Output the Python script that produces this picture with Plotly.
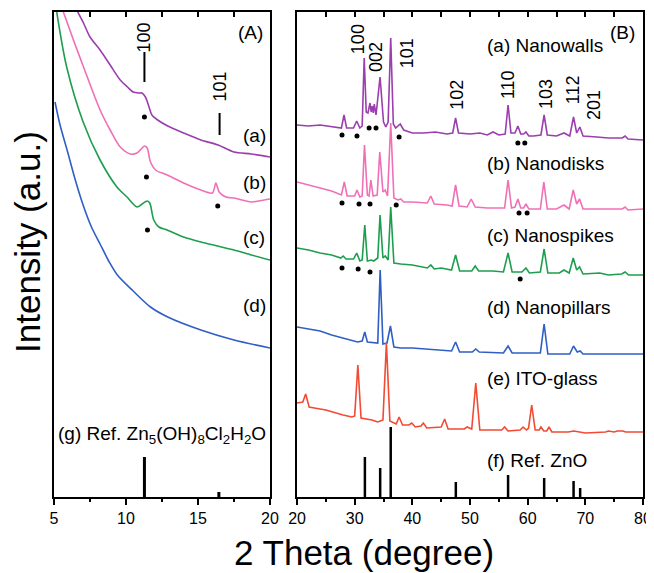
import plotly.graph_objects as go

# ---------------- data ----------------
# Panel A (2θ 5–20), intensities in arbitrary units (stacked with offsets)
A_a_x = [6.65, 7.05, 7.5, 8.2, 8.9, 9.6, 10.1, 10.5, 10.9, 11.1, 11.35, 11.6, 11.8, 12.2, 12.9, 14.0, 15.2, 16.4, 17.5, 18.7, 20.0]
A_a_y = [485, 474, 460, 447, 432, 417, 410, 405, 404, 404, 400, 390, 382, 377, 371, 364, 357, 352, 345, 343, 340]

A_b_x = [5.65, 6.35, 7.05, 8.2, 8.9, 9.6, 10.3, 10.77, 11.12, 11.28, 11.47, 11.7, 12.05, 12.86, 14.0, 15.2, 16.0, 16.24, 16.47, 16.93, 17.5, 18.7, 19.6, 20.0]
A_b_y = [485, 457, 430, 387, 367, 350, 343, 344, 349, 351, 349, 335, 327, 322, 314, 307, 304, 314, 305, 300, 299, 295, 297, 298]

A_c_x = [5.19, 5.88, 7.05, 8.2, 9.37, 10.07, 10.77, 11.12, 11.47, 11.65, 11.93, 12.28, 12.86, 14.0, 15.2, 16.35, 17.5, 18.7, 20.0]
A_c_y = [485, 430, 374, 337, 310, 300, 290, 293, 296, 294, 277, 270, 267, 260, 255, 251, 247, 242, 237]

A_d_x = [5.07, 5.42, 5.91, 6.5, 7.02, 7.6, 8.2, 8.8, 9.4, 10.5, 11.7, 12.9, 15.2, 17.5, 20.0]
A_d_y = [395, 372, 347, 316, 292, 270, 253, 236, 222, 206, 190, 180, 167, 157, 149]

A_ref_pos = [11.28, 16.45]
A_ref_h = [40, 5]

A_dots_x = [11.28, 11.42, 16.37, 11.49]
A_dots_y = [380, 320, 291, 267]

# Panel B (2θ 20–80)
B_a_x = [20, 22, 24, 26, 27.7, 28.15, 28.6, 29.8, 30.35, 30.9, 31.3, 31.65, 32.0, 32.3, 32.66, 32.86, 33.06, 33.23, 33.4, 33.7, 34.4, 35.0, 35.4, 35.8, 36.25, 36.7, 37.1, 37.9, 38.5, 40, 42, 44, 46, 47.0, 47.5, 48.0, 50, 51.7, 53, 54.0, 55, 56.1, 56.6, 57.1, 57.8, 58.3, 58.8, 59.3, 59.7, 60.2, 61, 62.3, 62.85, 63.4, 65, 66.3, 67.3, 67.95, 68.5, 69.05, 69.6, 72, 74, 76.4, 76.9, 77.4, 80]
B_a_py = [125, 126, 125, 127, 128, 115, 128, 128, 121, 128, 126, 58, 112, 113, 103, 112, 106, 113, 104, 115, 77, 122, 127, 122, 38, 124, 128, 124, 130, 133, 133, 132, 134, 133, 118, 133, 134, 133, 135, 132, 135, 134, 105, 133, 133, 126, 134, 134, 132, 136, 136, 135, 115, 135, 136, 133, 136, 117, 133, 127, 136, 137, 138, 138, 136, 139, 140]

B_b_x = [20, 22, 24, 26, 27.7, 28.2, 28.7, 30.0, 30.4, 30.9, 31.3, 31.7, 32.2, 32.5, 32.8, 33.2, 33.9, 34.35, 34.9, 35.3, 35.7, 36.25, 36.8, 37.5, 38.0, 38.5, 40, 42.6, 43.2, 43.8, 46, 46.9, 47.5, 48.1, 49.5, 50.2, 50.9, 53, 56.0, 56.6, 57.2, 57.8, 58.3, 58.8, 59.3, 59.7, 60.2, 62.2, 62.8, 63.4, 65, 66.3, 67.2, 67.9, 68.5, 69.0, 69.6, 72, 74, 76.4, 76.9, 77.4, 80]
B_b_py = [182, 185, 188, 191, 195, 182, 196, 196, 190, 197, 196, 145, 195, 196, 180, 196, 195, 152, 192, 190, 196, 123, 198, 200, 199, 202, 202, 203, 196, 204, 205, 206, 185, 206, 207, 199, 207, 208, 208, 180, 208, 207, 199, 208, 208, 204, 209, 209, 182, 209, 209, 205, 209, 190, 204, 199, 209, 209, 209, 209, 207, 210, 209]

B_c_x = [20, 22, 24, 26, 27.6, 28.0, 28.5, 29.8, 30.35, 30.9, 31.3, 31.75, 32.2, 32.9, 33.3, 34.0, 34.4, 34.9, 35.3, 35.8, 36.25, 36.8, 38, 40, 42.6, 43.2, 43.8, 45, 46.8, 47.5, 48.2, 50.3, 50.9, 51.5, 54, 55.8, 56.6, 57.3, 59, 59.7, 60.3, 62.2, 62.85, 63.5, 65.5, 66.3, 67.2, 67.9, 68.5, 69.0, 69.6, 72.5, 74, 76.3, 76.9, 77.5, 80]
B_c_py = [248, 250, 253, 255, 258, 256, 259, 259, 253, 261, 260, 225, 261, 260, 261, 258, 215, 258, 256, 260, 207, 263, 264, 265, 268, 265, 269, 268, 270, 255, 271, 271, 266, 271, 271, 272, 253, 272, 272, 268, 273, 272, 249, 273, 273, 270, 273, 258, 270, 267, 274, 273, 275, 274, 272, 275, 275]

B_d_x = [20, 22, 24, 26, 28, 29.5, 30.5, 31.3, 31.75, 32.2, 33.5, 34.0, 34.42, 34.9, 35.6, 36.2, 36.8, 38, 40, 44, 46.8, 47.5, 48.2, 50.4, 51.0, 51.6, 55.8, 56.6, 57.3, 62.2, 62.85, 63.5, 67.3, 67.95, 68.6, 69.1, 69.6, 80]
B_d_py = [327, 329, 331, 335, 338, 340, 342, 341, 332, 342, 343, 343, 270, 344, 343, 326, 347, 348, 348, 350, 351, 342, 352, 352, 349, 352, 353, 346, 353, 353, 324, 354, 354, 346, 352, 351, 354, 354]

B_e_x = [20, 21.0, 21.5, 22.1, 23, 25, 28, 29.5, 30.0, 30.55, 31.1, 32, 33, 34, 34.9, 35.5, 36.1, 37.2, 37.7, 38.3, 39.4, 39.9, 40.5, 41.5, 41.9, 42.5, 45.0, 45.6, 46.2, 49.0, 49.5, 50.3, 51.0, 51.7, 55.5, 56.0, 56.6, 58.7, 59.2, 59.8, 60.15, 60.7, 61.3, 62.0, 62.3, 62.8, 63.3, 63.7, 64.2, 67, 68.0, 70, 73.5, 74, 75, 75.5, 76.5, 77, 80]
B_e_py = [403, 402, 394, 407, 408, 410, 415, 417, 416, 365, 418, 419, 420, 422, 420, 343, 421, 424, 417, 425, 425, 423, 427, 426, 423, 428, 427, 419, 429, 429, 427, 429, 383, 430, 430, 427, 431, 430, 427, 430, 428, 405, 430, 430, 427, 431, 431, 427, 432, 432, 431, 433, 432, 431, 432, 431, 431, 432, 432]

B_ref_pos = [31.77, 34.42, 36.25, 47.54, 56.6, 62.86, 67.96, 69.1]
B_ref_h = [40, 29, 70, 15, 22, 19, 16, 9]

B_dots_x = [27.8, 30.4, 32.5, 33.7, 37.7, 58.3, 59.5,
            27.8, 30.75, 32.66, 37.2, 58.5, 59.9,
            27.8, 30.6, 32.66, 58.7]
B_dots_y = [362, 361, 369, 369, 360, 354, 354,
            294, 293, 293, 292, 284, 284,
            229, 228, 225, 218]

# Miller index labels
A_hkl = ["100", "101"]
B_hkl = ["100", "002", "101", "102", "110", "103", "112", "201"]
sample_names_A = ["(a)", "(b)", "(c)", "(d)"]
sample_names_B = ["(a) Nanowalls", "(b) Nanodisks", "(c) Nanospikes", "(d) Nanopillars",
                  "(e) ITO-glass", "(f) Ref. ZnO"]
ref_name_A = "(g) Ref. Zn<sub>5</sub>(OH)<sub>8</sub>Cl<sub>2</sub>H<sub>2</sub>O"

# ---------------- styling / layout ----------------
TOP = 497  # pixel baseline reference used for reading panel B values
def lvl(py):
    return [TOP - v for v in py]

PURPLE = "#9a3fad"
PINK = "#f070b6"
GREEN = "#1d9e4e"
BLUE = "#2f5fc4"
RED = "#f24a33"
FONT = "Liberation Sans, Arial, sans-serif"

fig = go.Figure()

def line(x, y, color, xa="x", ya="y", w=1.6, shape="linear"):
    fig.add_trace(go.Scatter(x=x, y=y, mode="lines", xaxis=xa, yaxis=ya,
                             line=dict(color=color, width=w, shape=shape, smoothing=0.8),
                             showlegend=False, hoverinfo="skip"))

# Panel A
line(A_a_x, A_a_y, PURPLE, shape="spline")
line(A_b_x, A_b_y, PINK, shape="spline")
line(A_c_x, A_c_y, GREEN, shape="spline")
line(A_d_x, A_d_y, BLUE, shape="spline")
sx, sy = [], []
for p, h in zip(A_ref_pos, A_ref_h):
    sx += [p, p, None]
    sy += [0, h, None]
line(sx, sy, "black", w=3)
fig.add_trace(go.Scatter(x=A_dots_x, y=A_dots_y, mode="markers", xaxis="x", yaxis="y",
                         marker=dict(color="black", size=5), showlegend=False, hoverinfo="skip"))

# Panel B
line(B_a_x, lvl(B_a_py), PURPLE, "x2", "y2")
line(B_b_x, lvl(B_b_py), PINK, "x2", "y2")
line(B_c_x, lvl(B_c_py), GREEN, "x2", "y2")
line(B_d_x, lvl(B_d_py), BLUE, "x2", "y2")
line(B_e_x, lvl(B_e_py), RED, "x2", "y2")
sx, sy = [], []
for p, h in zip(B_ref_pos, B_ref_h):
    sx += [p, p, None]
    sy += [0, h, None]
line(sx, sy, "black", "x2", "y2", w=2.5)
fig.add_trace(go.Scatter(x=B_dots_x, y=B_dots_y, mode="markers", xaxis="x2", yaxis="y2",
                         marker=dict(color="black", size=5), showlegend=False, hoverinfo="skip"))

# short index markers in panel A
A_hkl_x = [11.28, 16.5]
A_hkl_bar = [(415, 445), (362, 384)]
sx, sy = [], []
for px_, (y0, y1) in zip(A_hkl_x, A_hkl_bar):
    sx += [px_, px_, None]
    sy += [y0, y1, None]
line(sx, sy, "black", w=2)

# dummy traces for top tick axes
fig.add_trace(go.Scatter(x=[None], y=[None], xaxis="x3", yaxis="y", showlegend=False))
fig.add_trace(go.Scatter(x=[None], y=[None], xaxis="x4", yaxis="y2", showlegend=False))

ann = []
tf = dict(family=FONT, size=19, color="black")
hf = dict(family=FONT, size=18, color="black")
# panel A hkl text
for t, x, y in zip(A_hkl, A_hkl_x, [460, 410]):
    ann.append(dict(text=t, x=x, y=y, xref="x", yref="y", showarrow=False,
                    textangle=-90, font=hf, xanchor="center", yanchor="middle"))
# panel A sample labels
for t, y in zip(sample_names_A, [362, 315, 260, 192]):
    ann.append(dict(text=t, x=18.9, y=y, xref="x", yref="y", showarrow=False, font=tf,
                    xanchor="center", yanchor="middle"))
ann.append(dict(text="(A)", x=18.65, y=465, xref="x", yref="y", showarrow=False, font=tf,
                xanchor="center", yanchor="middle"))
ann.append(dict(text=ref_name_A, x=5.15, y=62, xref="x", yref="y", showarrow=False,
                xanchor="left", yanchor="middle", font=tf))
# panel B hkl text
B_hkl_x = [30.6, 33.7, 39.1, 47.7, 56.6, 63.2, 67.9, 71.5]
B_hkl_y = [458, 440, 444, 402, 412, 403, 407, 392]
for t, x, y in zip(B_hkl, B_hkl_x, B_hkl_y):
    ann.append(dict(text=t, x=x, y=y, xref="x2", yref="y2", showarrow=False,
                    textangle=-90, font=hf, xanchor="center", yanchor="middle"))
for t, y in zip(sample_names_B, [452, 334, 262, 190, 119, 37]):
    ann.append(dict(text=t, x=52.6, y=y, xref="x2", yref="y2", showarrow=False,
                    xanchor="left", yanchor="middle", font=tf))
ann.append(dict(text="(B)", x=76.5, y=465, xref="x2", yref="y2", showarrow=False, font=tf,
                xanchor="center", yanchor="middle"))
# axis titles
ann.append(dict(text="Intensity (a.u.)", x=-0.044, y=0.526, xref="paper", yref="paper",
                showarrow=False, textangle=-90, xanchor="center", yanchor="middle",
                font=dict(family=FONT, size=35, color="black")))
ann.append(dict(text="2 Theta (degree)", x=0.526, y=-0.115, xref="paper", yref="paper",
                showarrow=False, xanchor="center", yanchor="middle",
                font=dict(family=FONT, size=35, color="black")))

LW = 1.8
xa_common = dict(showline=True, mirror=True, linecolor="black", linewidth=LW,
                 ticks="outside", ticklen=6, tickwidth=1.5, tickcolor="black",
                 showgrid=False, zeroline=False, automargin=False,
                 tickfont=dict(family=FONT, size=16, color="black"))
ya_common = dict(showline=True, mirror=True, linecolor="black", linewidth=LW,
                 ticks="", showticklabels=False, showgrid=False, zeroline=False,
                 range=[0, 485], fixedrange=True, automargin=False)
top_common = dict(ticks="inside", ticklen=5, tickwidth=1.5, tickcolor="black",
                  showticklabels=False, showgrid=False, zeroline=False, showline=False,
                  automargin=False)

# the page body adds an 8 px offset at left/top, so the figure is 8 px smaller
fig.update_layout(
    width=646, height=565,
    margin=dict(l=46, r=11, t=4, b=76, autoexpand=False),
    paper_bgcolor="white", plot_bgcolor="white",
    showlegend=False,
    xaxis=dict(domain=[0, 0.3667], range=[5, 20], dtick=5, tick0=5, anchor="y",
               minor=dict(dtick=2.5, tick0=5, ticks="outside", ticklen=3, tickwidth=1.5,
                          tickcolor="black"), **xa_common),
    xaxis2=dict(domain=[0.4126, 1], range=[20, 80], dtick=10, tick0=20, anchor="y2",
                minor=dict(dtick=5, tick0=20, ticks="outside", ticklen=3, tickwidth=1.5,
                           tickcolor="black"), **xa_common),
    xaxis3=dict(overlaying="x", side="top", anchor="y", range=[5, 20], dtick=2.5, tick0=5,
                **top_common),
    xaxis4=dict(overlaying="x2", side="top", anchor="y2", range=[20, 80], dtick=5, tick0=20,
                **top_common),
    yaxis=dict(domain=[0, 1], anchor="x", **ya_common),
    yaxis2=dict(domain=[0, 1], anchor="x2", **ya_common),
    annotations=ann,
)

fig.write_html("out.html")
